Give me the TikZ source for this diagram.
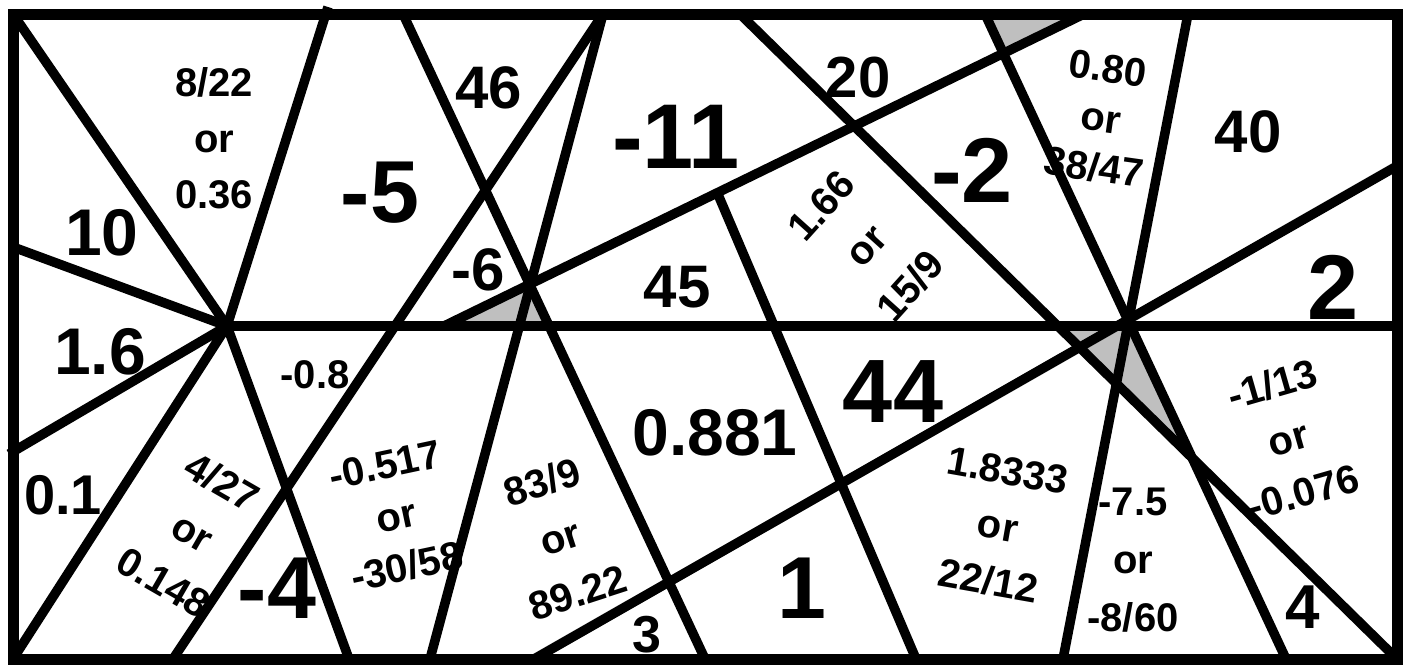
\documentclass[tikz,border=0pt]{standalone}
\usepackage{fontspec}
\setmainfont{Liberation Sans}
\usetikzlibrary{calc}
\definecolor{shadegrey}{gray}{0.75}
\tikzset{
  cut/.style={line width=4.75pt},
  rim/.style={line width=5.5pt},
  shaded/.style={fill=shadegrey},
  bignum/.style={font=\bfseries\fontsize{#1}{50}\selectfont,inner sep=0pt},
  bignum/.default=44,
  midnum/.style={font=\bfseries\fontsize{#1}{36}\selectfont,inner sep=0pt},
  midnum/.default=30,
  smallnum/.style={font=\bfseries\fontsize{20}{#1}\selectfont,align=center,inner sep=0pt},
  smallnum/.default=28
}

\begin{document}
\begin{tikzpicture}[x=0.5pt,y=-0.5pt]
\useasboundingbox (0,0) rectangle (1411,666);

% frame corners
\coordinate (tl) at (13,14);
\coordinate (tr) at (1397,14);
\coordinate (br) at (1397,659);
\coordinate (bl) at (13,659);

% end points of the cuts
\coordinate (hubL) at (227,326);
\coordinate (midR) at (1397,326);
\coordinate (lftA) at (13,247);
\coordinate (lftB) at (9,454);
\coordinate (topA) at (328,7);
\coordinate (botA) at (349,659);
\coordinate (topB) at (603,14);
\coordinate (botB) at (173,659);
\coordinate (botC) at (430,659);
\coordinate (topC) at (403,14);
\coordinate (botD) at (705,659);
\coordinate (baseE) at (444,326);
\coordinate (topE) at (1084,14);
\coordinate (topF) at (740,14);
\coordinate (topG) at (985,14);
\coordinate (botG) at (1286,659);
\coordinate (topH) at (1188,14);
\coordinate (botH) at (1063,659);
\coordinate (rgtI) at (1397,166);
\coordinate (botI) at (534,659);
\coordinate (footJ) at ($(baseE)!0.427!(topE)$);
\coordinate (botJ) at (916,659);

% grey pieces
\fill[shaded] (baseE) -- (intersection of baseE--topE and topC--botD)
  -- (intersection of topC--botD and hubL--midR) -- cycle;
\fill[shaded] (intersection of topF--br and hubL--midR)
  -- (intersection of topG--botG and hubL--midR)
  -- (intersection of topG--botG and topF--br) -- cycle;
\fill[shaded] (topG) -- (topE) -- (intersection of topG--botG and baseE--topE) -- cycle;

% upper half
\node[smallnum] (v822) at (214,138) {8/22\\or\\0.36};
\node[bignum] (vm5) at (380,193) {-5};
\node[midnum=33] (v10) at (102,233) {10};
\node[midnum] (v46) at (489,88) {46};
\node[bignum=46] (vm11) at (676,137) {-11};
\node[midnum=29] (v20) at (858,78) {20};
\node[smallnum=30,rotate=48] (v166) at (866,246) {1.66\\or\\15/9};
\node[bignum=46] (vm2) at (972,170) {-2};
\node[smallnum=25,rotate=-8] (v080) at (1101,118) {0.80\\or\\38/47};
\node[midnum] (v40) at (1248,132) {40};
\node[bignum=46] (v2) at (1333,287) {2};
\node[midnum] (vm6) at (478,270) {-6};
\node[midnum] (v45) at (677,287) {45};

% lower half
\node[midnum=33] (v16) at (100,352) {1.6};
\node[midnum=28] (v01) at (63,495) {0.1};
\node[smallnum] (vm08) at (315,375) {-0.8};
\node[smallnum=29,rotate=-30] (v427) at (193,532) {4/27\\or\\0.148};
\node[bignum] (vm4) at (277,588) {-4};
\node[smallnum=26,rotate=12] (vm0517) at (396,516) {-0.517\\or\\-30/58};
\node[smallnum=29,rotate=18] (v839) at (560,537) {83/9\\or\\89.22};
\node[midnum=26] (v3) at (647,635) {3};
\node[midnum=33] (v0881) at (715,433) {0.881};
\node[bignum] (v1) at (802,588) {1};
\node[bignum=45] (v44) at (893,392) {44};
\node[smallnum,rotate=-10] (v18333) at (998,526) {1.8333\\or\\22/12};
\node[smallnum=29] (vm75) at (1133,560) {-7.5\\or\\-8/60};
\node[smallnum,rotate=16] (vm113) at (1288,438) {-1/13\\or\\-0.076};
\node[midnum=31] (v4) at (1303,607) {4};

% cuts
\draw[line width=5pt] (hubL) -- (midR);
\draw[cut] (hubL) -- (tl);
\draw[cut] (hubL) -- (lftA);
\draw[cut] (hubL) -- (topA);
\draw[cut] (hubL) -- (lftB);
\draw[cut] (hubL) -- (bl);
\draw[cut] (hubL) -- (botA);
\draw[cut] (topB) -- (botB);
\draw[cut] (topB) -- (botC);
\draw[cut] (topC) -- (botD);
\draw[cut] (baseE) -- (topE);
\draw[cut] (topF) -- (br);
\draw[cut] (topG) -- (botG);
\draw[cut] (topH) -- (botH);
\draw[cut] (rgtI) -- (botI);
\draw[cut] (footJ) -- (botJ);

% frame
\draw[rim] (tl) rectangle (br);
\end{tikzpicture}
\end{document}
